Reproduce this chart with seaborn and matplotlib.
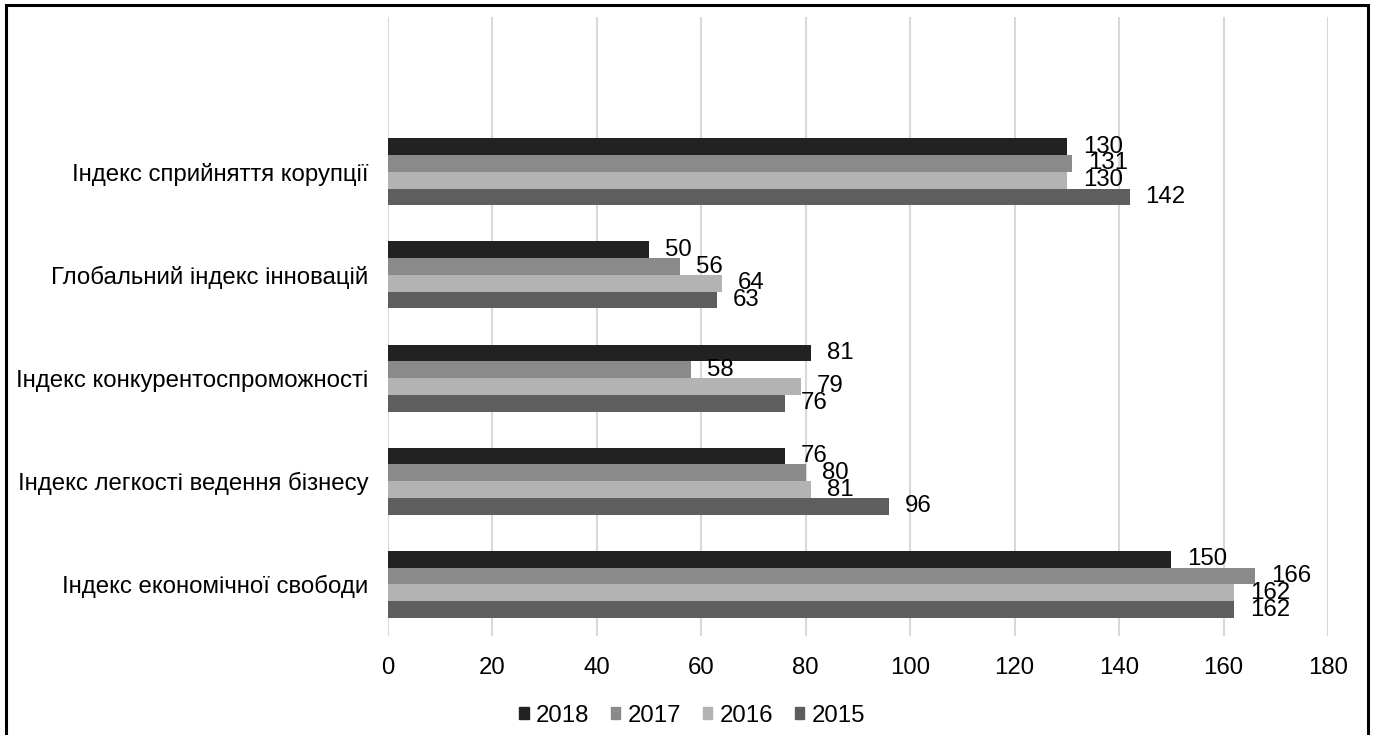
import pandas as pd
import matplotlib
matplotlib.use('Agg')
import matplotlib.pyplot as plt
import matplotlib.patches as mpatches
import seaborn as sns

# дані
categories = ['Індекс сприйняття корупції',
              'Глобальний індекс інновацій',
              'Індекс конкурентоспроможності',
              'Індекс легкості ведення бізнесу',
              'Індекс економічної свободи']
years = ['2018', '2017', '2016', '2015']
v2018 = [130, 50, 81, 76, 150]
v2017 = [131, 56, 58, 80, 166]
v2016 = [130, 64, 79, 81, 162]
v2015 = [142, 63, 76, 96, 162]
colors = ['#222222', '#8a8a8a', '#b3b3b3', '#5e5e5e']

values = {'2018': v2018, '2017': v2017, '2016': v2016, '2015': v2015}
rows = []
for y in years:
    for c, v in zip(categories, values[y]):
        rows.append({'index': c, 'year': y, 'value': v})
df = pd.DataFrame(rows)

sns.set_style('white')
plt.rcParams['font.family'] = ['Liberation Sans', 'DejaVu Sans']
plt.rcParams['text.color'] = 'black'
fs = 17.3

fig = plt.figure(figsize=(13.73, 7.35), dpi=100)
ax = fig.add_axes([388/1373, 1 - 636/735, 940/1373, 619/735])

sns.barplot(data=df, x='value', y='index', hue='year', order=categories,
            hue_order=years, palette=colors, orient='h', width=0.65,
            saturation=1, dodge=True, ax=ax, legend=False, linewidth=0)

for cont in ax.containers:
    ax.bar_label(cont, fmt='%d', padding=11.5, fontsize=fs, color='black')

ax.set_xlim(0, 180)
ax.set_xticks(range(0, 181, 20))
ax.set_ylim(4.5, -1.5)
ax.set_yticks(range(len(categories)))
ax.set_yticklabels(categories)
ax.set_xlabel('')
ax.set_ylabel('')
ax.xaxis.grid(True, color='#d9d9d9', linewidth=1.5)
ax.set_axisbelow(True)
for s in ax.spines.values():
    s.set_visible(False)
ax.tick_params(axis='x', length=0, pad=15, labelsize=fs, labelcolor='black')
ax.tick_params(axis='y', length=0, pad=14, labelsize=fs, labelcolor='black')

handles = [mpatches.Patch(color=c, label=y) for c, y in zip(colors, years)]
fig.legend(handles=handles, loc='center', bbox_to_anchor=(692/1373, 1 - 716/735),
           ncol=4, frameon=False, fontsize=fs, handlelength=0.4,
           handleheight=0.4, handletextpad=0.3, columnspacing=0.9,
           labelcolor='black')

# рамка навколо
border = mpatches.Rectangle((6/1373, -0.05), (1368 - 6)/1373, 1 + 0.05 - 5/735,
                            transform=fig.transFigure, fill=False,
                            edgecolor='black', linewidth=2.2)
fig.patches.append(border)

plt.savefig('out.png', dpi=100)
